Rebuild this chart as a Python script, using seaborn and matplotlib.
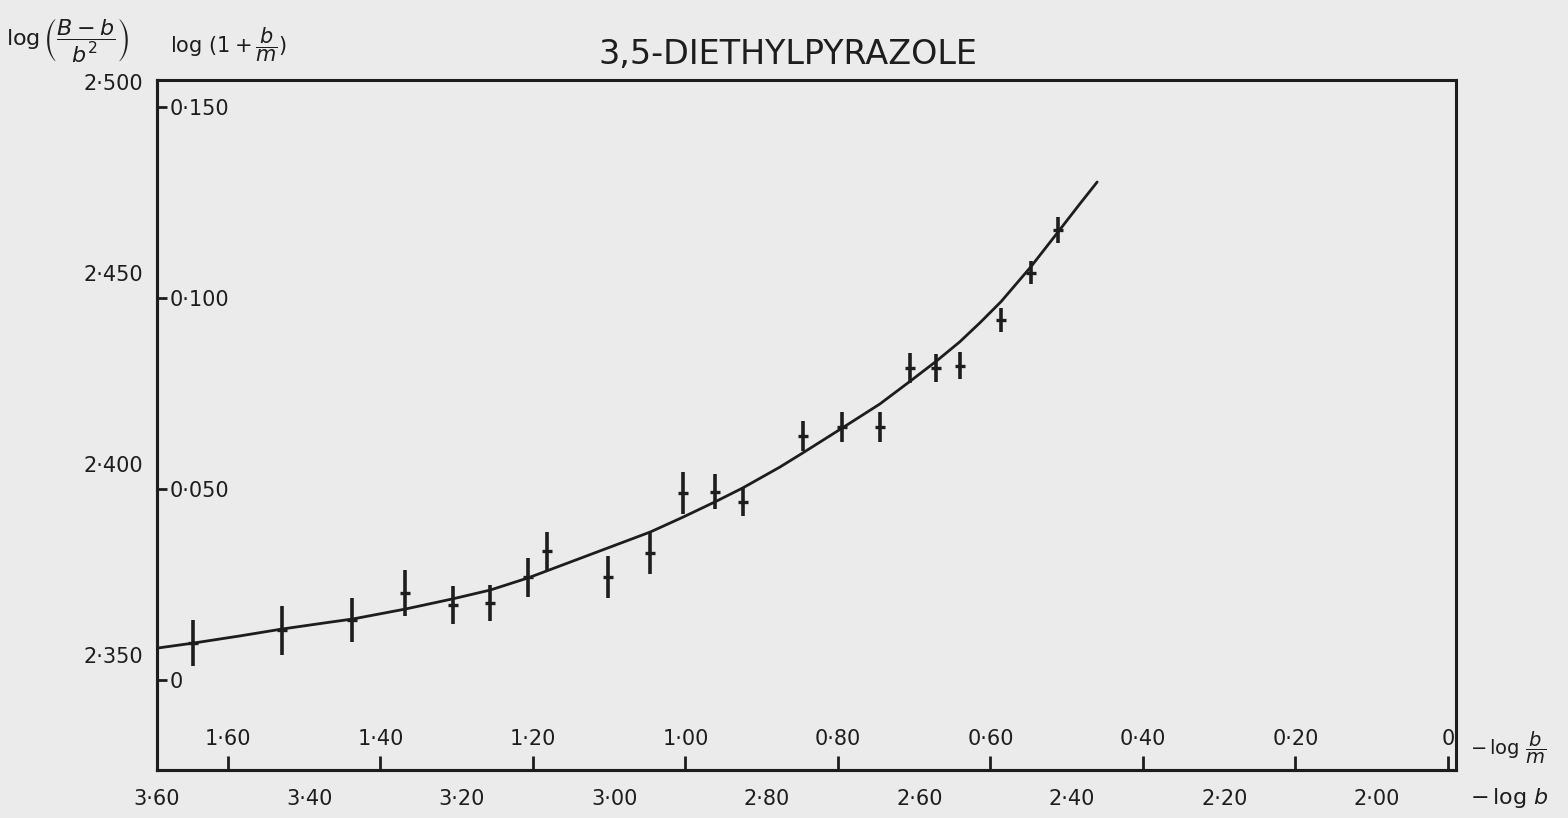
import matplotlib
matplotlib.use("Agg")
import matplotlib.pyplot as plt
import seaborn as sns
import pandas as pd

# ---------------- data ----------------
neg_log_b = [3.553, 3.436, 3.344, 3.275, 3.212, 3.163, 3.113, 3.089, 3.009, 2.953, 2.910,
             2.868, 2.832, 2.753, 2.702, 2.652, 2.6125, 2.578, 2.547, 2.493, 2.454, 2.418]
log_ratio = [2.3531, 2.3565, 2.3592, 2.3662, 2.3631, 2.3636, 2.3704, 2.3772, 2.3704, 2.3767, 2.3924,
             2.3927, 2.3901, 2.4073, 2.4097, 2.4097, 2.4251, 2.4251, 2.4257, 2.4377, 2.4500, 2.4613]
err = [0.0060, 0.0064, 0.0058, 0.0060, 0.0050, 0.0047, 0.0051, 0.0051, 0.0055, 0.0054, 0.0055,
       0.0046, 0.0038, 0.0040, 0.0039, 0.0039, 0.0039, 0.0037, 0.0035, 0.0031, 0.0030, 0.0034]

curve_x = [3.600, 3.553, 3.491, 3.436, 3.373, 3.344, 3.275, 3.212, 3.163, 3.113, 3.089, 3.009,
           2.953, 2.910, 2.868, 2.832, 2.783, 2.753, 2.703, 2.652, 2.612, 2.578, 2.547, 2.520,
           2.493, 2.454, 2.418, 2.390, 2.367]
curve_y = [2.3518, 2.3531, 2.3550, 2.3568, 2.3586, 2.3594, 2.3620, 2.3647, 2.3670, 2.3702, 2.3720,
           2.3780, 2.3822, 2.3861, 2.3901, 2.3937, 2.3992, 2.4029, 2.4092, 2.4157, 2.4217, 2.4269,
           2.4320, 2.4371, 2.4425, 2.4516, 2.4608, 2.4680, 2.4738]

x_ticks = [3.60, 3.40, 3.20, 3.00, 2.80, 2.60, 2.40, 2.20, 2.00]
x_labels = ["3·60", "3·40", "3·20", "3·00", "2·80", "2·60", "2·40", "2·20", "2·00"]
x2_ticks = [1.60, 1.40, 1.20, 1.00, 0.80, 0.60, 0.40, 0.20, 0.0]
x2_labels = ["1·60", "1·40", "1·20", "1·00", "0·80", "0·60", "0·40", "0·20", "0"]
y_ticks = [2.350, 2.400, 2.450, 2.500]
y_labels = ["2·350", "2·400", "2·450", "2·500"]
y2_ticks = [0.0, 0.050, 0.100, 0.150]
y2_labels = ["0", "0·050", "0·100", "0·150"]

X_OFFSET = 1.907     # -log b  minus  -log(b/m)
Y_OFFSET = 2.3435    # log((B-b)/b^2) minus log(1+b/m)

# ---------------- style ----------------
INK = "#1d1d1d"
PAPER = "#ebebeb"
sns.set_style("white")
plt.rcParams["font.family"] = ["DejaVu Sans"]
plt.rcParams["text.color"] = INK
plt.rcParams["axes.edgecolor"] = INK
plt.rcParams["xtick.color"] = INK
plt.rcParams["ytick.color"] = INK

W, H = 1568, 818
fig = plt.figure(figsize=(W / 100, H / 100), dpi=100, facecolor=PAPER)
ax = fig.add_axes([157 / W, 1 - 770 / H, (1456 - 157) / W, (770 - 80) / H])
ax.set_facecolor(PAPER)

curve = pd.DataFrame({"x": curve_x, "y": curve_y})
pts = pd.DataFrame({"x": neg_log_b, "y": log_ratio, "e": err})

sns.lineplot(data=curve, x="x", y="y", sort=False, color=INK, lw=2.0, ax=ax)
ax.errorbar(pts["x"], pts["y"], yerr=pts["e"], fmt="none", ecolor=INK,
            elinewidth=2.6, capsize=0)
sns.scatterplot(data=pts, x="x", y="y", marker="_", s=55, color=INK,
                linewidth=2.4, ax=ax, zorder=5)

ax.set_xlim(3.60, 1.8964)
ax.set_ylim(2.3199, 2.5005)
ax.set_xlabel("")
ax.set_ylabel("")

for s in ax.spines.values():
    s.set_linewidth(2.2)
    s.set_color(INK)
    s.set_visible(True)

ax.set_xticks(x_ticks, x_labels)
ax.set_yticks(y_ticks, y_labels)
ax.tick_params(axis="x", direction="out", length=10, width=2, pad=4, labelsize=15)
ax.tick_params(axis="y", direction="out", length=9, width=2, pad=1, labelsize=15)

# upper scale -log(b/m) drawn on the bottom axis line, ticks pointing up
secx = ax.secondary_xaxis(0.0, functions=(lambda v: v - X_OFFSET, lambda u: u + X_OFFSET))
secx.set_alignment("top")
secx.set_xticks(x2_ticks, x2_labels)
secx.tick_params(axis="x", direction="out", length=10, width=2, pad=5, labelsize=15)
for s in secx.spines.values():
    s.set_linewidth(2.2)
    s.set_color(INK)

# inner scale log(1+b/m) on the left axis line, ticks pointing right
secy = ax.secondary_yaxis(0.0, functions=(lambda y: y - Y_OFFSET, lambda v: v + Y_OFFSET))
secy.set_alignment("right")
secy.set_yticks(y2_ticks, y2_labels)
secy.tick_params(axis="y", direction="out", length=7, width=2, pad=2, labelsize=15)
for s in secy.spines.values():
    s.set_linewidth(2.2)
    s.set_color(INK)

# titles and axis names
fig.text(788 / W, 1 - 55 / H, "3,5-DIETHYLPYRAZOLE", ha="center", va="center",
         fontsize=24, color=INK)
fig.text(68 / W, 1 - 40 / H, r"$\log\left(\dfrac{B-b}{b^2}\right)$", ha="center",
         va="center", fontsize=16, color=INK)
fig.text(228 / W, 1 - 45 / H, r"$\log\,(1+\dfrac{b}{m})$", ha="center", va="center",
         fontsize=15, color=INK)
fig.text(1470 / W, 1 - 748 / H, r"$-\,\log\,\dfrac{b}{m}$", ha="left", va="center",
         fontsize=14, color=INK)
fig.text(1470 / W, 1 - 798 / H, r"$-\,\log\,b$", ha="left", va="center",
         fontsize=16, color=INK)

fig.savefig("out.png", dpi=100, facecolor=PAPER)
